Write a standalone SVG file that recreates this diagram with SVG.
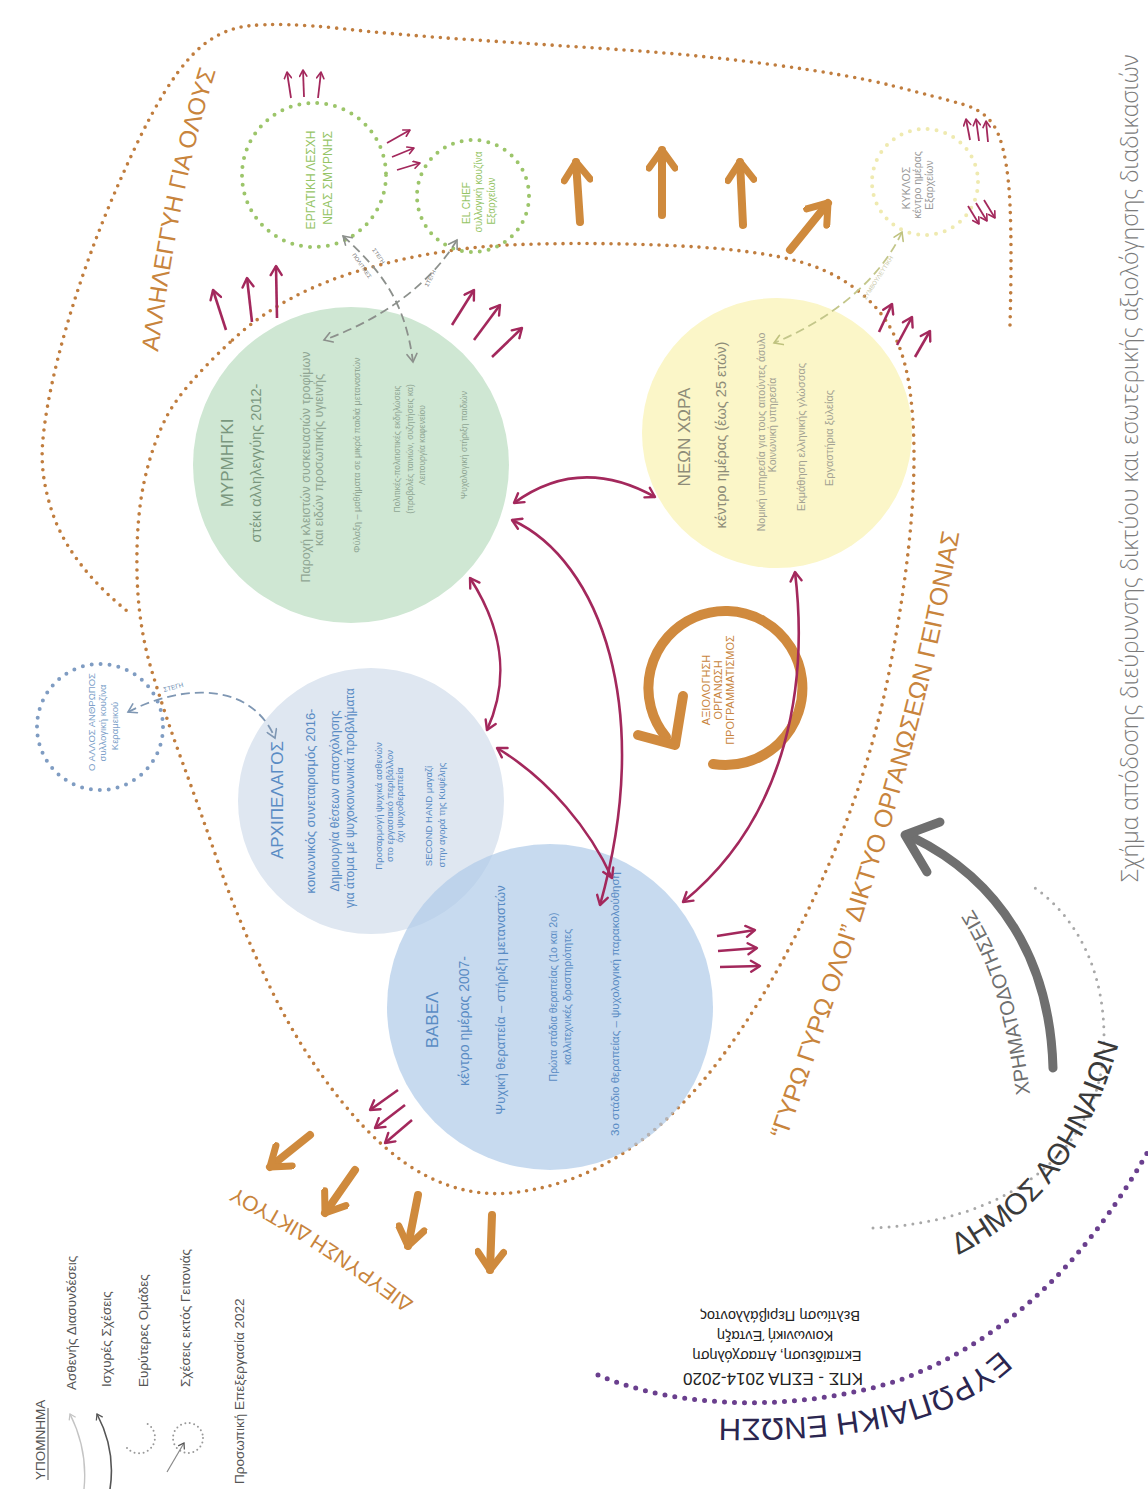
<svg xmlns="http://www.w3.org/2000/svg" width="1148" height="1489" viewBox="0 0 1148 1489">
<defs>
<style>
text{font-family:"Liberation Sans","Noto Sans",sans-serif}
.cap{font-family:"Open Sans","Liberation Sans",sans-serif;font-weight:300;fill:#7b7b7b;font-size:23px}
.brdot{fill:none;stroke:#c07d3e;stroke-width:3.6;stroke-linecap:round;stroke-dasharray:0 8}
.gdot{fill:none;stroke:#9cc56a;stroke-width:4;stroke-linecap:round;stroke-dasharray:0 9}
.ydot{fill:none;stroke:#efeab0;stroke-width:4;stroke-linecap:round;stroke-dasharray:0 9}
.bdot{fill:none;stroke:#7f9cc2;stroke-width:4;stroke-linecap:round;stroke-dasharray:0 9}
.pdot{fill:none;stroke:#6a3f8e;stroke-width:5;stroke-linecap:round;stroke-dasharray:0 10}
.greydot{fill:none;stroke:#a8a8a8;stroke-width:3;stroke-linecap:round;stroke-dasharray:0 8}
.cr{fill:none;stroke:#a3285c;stroke-width:2.6}
.crs{fill:none;stroke:#a3285c;stroke-width:1.8}
.or{fill:none;stroke:#cf8a3d;stroke-width:8;stroke-linecap:round}
.dash{fill:none;stroke:#8c908c;stroke-width:1.8;stroke-dasharray:9 5}
.tg{fill:#7a977e}.tgs{fill:#90a693}
.ty{fill:#8e8c78}.tys{fill:#a3a293}
.tb{fill:#5a8cc4}
.to{fill:#c8843c}
.leg{fill:#555;font-size:13.5px}
</style>
<marker id="mc" viewBox="0 0 14 14" refX="12" refY="7" markerWidth="14" markerHeight="14" markerUnits="userSpaceOnUse" orient="auto-start-reverse"><path d="M3,1.5 L12,7 L3,12.5" fill="none" stroke="#a3285c" stroke-width="2.4" stroke-linecap="round" stroke-linejoin="round"/></marker>
<marker id="mcs" viewBox="0 0 10 10" refX="9" refY="5" markerWidth="9" markerHeight="9" markerUnits="userSpaceOnUse" orient="auto"><path d="M2,1 L9,5 L2,9" fill="none" stroke="#a3285c" stroke-width="1.8" stroke-linecap="round" stroke-linejoin="round"/></marker>
<marker id="mo" viewBox="0 0 32 32" refX="26" refY="16" markerWidth="32" markerHeight="32" markerUnits="userSpaceOnUse" orient="auto"><path d="M8,3 L26,16 L8,29" fill="none" stroke="#cf8a3d" stroke-width="7" stroke-linecap="round" stroke-linejoin="round"/></marker>
<marker id="md" viewBox="0 0 12 12" refX="10" refY="6" markerWidth="12" markerHeight="12" markerUnits="userSpaceOnUse" orient="auto-start-reverse"><path d="M2,1 L10,6 L2,11" fill="none" stroke="#8c908c" stroke-width="1.6" stroke-linecap="round"/></marker>
<marker id="mdy" viewBox="0 0 12 12" refX="10" refY="6" markerWidth="12" markerHeight="12" markerUnits="userSpaceOnUse" orient="auto-start-reverse"><path d="M2,1 L10,6 L2,11" fill="none" stroke="#bfc27e" stroke-width="1.6" stroke-linecap="round"/></marker>
<marker id="mdb" viewBox="0 0 12 12" refX="10" refY="6" markerWidth="12" markerHeight="12" markerUnits="userSpaceOnUse" orient="auto-start-reverse"><path d="M2,1 L10,6 L2,11" fill="none" stroke="#7f97b3" stroke-width="1.6" stroke-linecap="round"/></marker>
<marker id="ml1" viewBox="0 0 10 10" refX="8" refY="5" markerWidth="9" markerHeight="9" markerUnits="userSpaceOnUse" orient="auto-start-reverse"><path d="M2,1 L8,5 L2,9" fill="none" stroke="#c4c4c4" stroke-width="1.4"/></marker>
<marker id="ml2" viewBox="0 0 10 10" refX="8" refY="5" markerWidth="9" markerHeight="9" markerUnits="userSpaceOnUse" orient="auto-start-reverse"><path d="M2,1 L8,5 L2,9" fill="none" stroke="#555" stroke-width="1.4"/></marker>
<path id="pAll" d="M 158 352 C 172 250, 188 150, 226 40"/>
<path id="pGyro" d="M 786 1140 C 852 950, 925 750, 965 500"/>
<path id="pDiev" d="M 414 1302 C 350 1252, 288 1214, 222 1180"/>
<path id="pChrim" d="M 1030 1094 C 1018 1000, 998 940, 955 884"/>
<path id="pDimos" d="M 958 1255 C 1040 1215, 1100 1140, 1128 1005"/>
<path id="pEE" d="M 1000 1350 C 950 1398, 860 1424, 700 1418"/>
</defs>

<rect width="1148" height="1489" fill="#ffffff"/>

<!-- caption -->
<text class="cap" transform="translate(1138,882) rotate(-90)">Σχήμα απόδοσης διεύρυνσης δικτύου και εσωτερικής αξιολόγησης διαδικασιών</text>

<!-- big dotted outlines -->
<g id="outlines">
<path class="brdot" d="M 1010 325 Q 1012 250 1010 205 Q 1008 160 999 136 Q 990 112 963.5 104.5 Q 937 97 893.5 86 Q 850 75 775 65 Q 700 55 625 50 Q 550 45 475 40 Q 400 35 340 28.5 Q 280 22 247.5 26 Q 215 30 190 57.5 Q 165 85 137.5 142.5 Q 110 200 90 255 Q 70 310 57.5 360 Q 45 410 42.5 445 Q 40 480 55 520 Q 75 570 132 615"/>
<path class="brdot" d="M 232.5 340 Q 283 293 361.5 270 Q 440 247 520 244.5 Q 600 242 680 246 Q 760 250 802.5 262.5 Q 845 275 873.5 305 Q 902 335 909.5 387.5 Q 917 440 912 510 Q 907 580 889.5 670 Q 872 760 837 845 Q 802 930 762 996.5 Q 722 1063 682 1104 Q 642 1145 601 1166 Q 560 1187 515 1192.5 Q 470 1198 427.5 1176.5 Q 385 1155 342.5 1102.5 Q 300 1050 269 985 Q 238 920 219 865 Q 200 810 182.5 762.5 Q 165 715 151.5 670 Q 138 625 137 572.5 Q 136 520 144 482.5 Q 152 445 167 416 Q 182 387 232.5 340 Z"/>
<text class="to" font-size="24"><textPath href="#pAll">ΑΛΛΗΛΕΓΓΥΗ ΓΙΑ ΟΛΟΥΣ</textPath></text>
<text class="to" font-size="25"><textPath href="#pGyro">“ΓΥΡΩ ΓΥΡΩ ΟΛΟΙ” ΔΙΚΤΥΟ ΟΡΓΑΝΩΣΕΩΝ ΓΕΙΤΟΝΙΑΣ</textPath></text>
<text class="to" font-size="21"><textPath href="#pDiev">ΔΙΕΥΡΥΝΣΗ ΔΙΚΤΥΟΥ</textPath></text>
</g>

<!-- EU / Dimos -->
<g id="eu">
<path class="pdot" d="M 598 1375 C 680 1410, 800 1412, 900 1380 C 1000 1342, 1080 1272, 1150 1148"/>
<text fill="#2b2650" font-size="31"><textPath href="#pEE">ΕΥΡΩΠΑΙΚΗ ΕΝΩΣΗ</textPath></text>
<g fill="#222" text-anchor="middle">
<text font-size="17" transform="translate(773,1373) rotate(180)">ΚΠΣ - ΕΣΠΑ 2014-2020</text>
<text font-size="14.5" transform="translate(777,1351) rotate(180)">Εκπαίδευση, Απασχόληση</text>
<text font-size="14.5" transform="translate(775,1331) rotate(180)">Κοινωνική Ένταξη</text>
<text font-size="14.5" transform="translate(780,1311) rotate(180)">Βελτίωση Περιβάλλοντος</text>
</g>
</g>
<g id="dimos">
<path class="greydot" d="M 873 1228 C 1000 1222, 1090 1160, 1103 1060 C 1110 980, 1080 920, 1035 888"/>
<text fill="#3a3a3a" font-size="30"><textPath href="#pDimos">ΔΗΜΟΣ ΑΘΗΝΑΙΩΝ</textPath></text>
<path d="M 1053 1068 C 1050 960, 1000 880, 912 837" fill="none" stroke="#6f6f6f" stroke-width="9" stroke-linecap="round"/>
<path d="M 940 822 L 905 835 L 927 872" fill="none" stroke="#6f6f6f" stroke-width="9" stroke-linecap="round" stroke-linejoin="round"/>
<text fill="#6f6f6f" font-size="20"><textPath href="#pChrim">ΧΡΗΜΑΤΟΔΟΤΗΣΕΙΣ</textPath></text>
</g>

<!-- main circles -->
<g id="myrmigki">
<circle cx="351" cy="465" r="158" fill="#cfe7d3"/>
<g transform="translate(351,465) rotate(-90)" text-anchor="middle">
<text class="tg" x="2" y="-118" font-size="17">ΜΥΡΜΗΓΚΙ</text>
<text class="tg" x="2" y="-90" font-size="14.5">στέκι αλληλεγγύης 2012-</text>
<text class="tgs" x="-2" y="-41" font-size="12.5">Παροχή κλειστών συσκευασιών τροφίμων</text>
<text class="tgs" x="5" y="-28" font-size="12.5">και ειδών προσωπικής υγιεινής</text>
<text class="tgs" x="10" y="9" font-size="9">Φύλαξη – μαθήματα σε μικρά παιδιά μεταναστών</text>
<text class="tgs" x="16" y="49" font-size="8.5">Πολιτικές-πολιτιστικές εκδηλώσεις</text>
<text class="tgs" x="16" y="62" font-size="8.5">(προβολές ταινιών, συζητήσεις κα)</text>
<text class="tgs" x="20" y="74" font-size="8.5">Λειτουργία καφενείου</text>
<text class="tgs" x="20" y="116" font-size="8.5">Ψυχολογική στήριξη παιδιών</text>
</g>
</g>

<g id="neon-xora">
<circle cx="777" cy="433" r="135" fill="#fbf6c8"/>
<g transform="translate(777,433) rotate(-90)" text-anchor="middle">
<text class="ty" x="-4" y="-87" font-size="17">ΝΕΩΝ ΧΩΡΑ</text>
<text class="ty" x="-2" y="-51" font-size="14.5">κέντρο ημέρας (έως 25 ετών)</text>
<text class="tys" x="1" y="-12" font-size="10.5">Νομική υπηρεσία για τους αιτούντες άσυλο</text>
<text class="tys" x="8" y="-1" font-size="10.5">Κοινωνική υπηρεσία</text>
<text class="tys" x="-4" y="28" font-size="11">Εκμάθηση ελληνικής γλώσσας</text>
<text class="tys" x="-5" y="56" font-size="11">Εργαστήρια ξυλείας</text>
</g>
</g>

<g id="archipelagos">
<circle cx="371" cy="801" r="133" fill="#dfe7f1"/>
</g>
<g id="babel">
<circle cx="550" cy="1007" r="163" fill="#afcae8" fill-opacity="0.7"/>
</g>
<g transform="translate(371,801) rotate(-90)" text-anchor="middle" class="tb">
<text x="1" y="-88" font-size="17">ΑΡΧΙΠΕΛΑΓΟΣ</text>
<text x="0" y="-56" font-size="13">κοινωνικός συνεταιρισμός 2016-</text>
<text x="0" y="-32" font-size="12">Δημιουργία θέσεων απασχόλησης</text>
<text x="3" y="-17" font-size="12">για άτομα με ψυχοκοινωνικά προβλήματα</text>
<text x="-5" y="11" font-size="9.5">Προσαρμογή ψυχικά ασθενών</text>
<text x="-5" y="22" font-size="9.5">στο εργασιακό περιβάλλον</text>
<text x="-4" y="32" font-size="9.5">όχι ψυχοθεραπεία</text>
<text x="-15" y="61" font-size="9.5">SECOND HAND μαγαζί</text>
<text x="-14" y="74" font-size="9.5">στην αγορά της Κυψέλης</text>
</g>
<g transform="translate(550,1007) rotate(-90)" text-anchor="middle" class="tb">
<text x="-13" y="-112" font-size="17">ΒΑΒΕΛ</text>
<text x="-14" y="-81" font-size="14">κέντρο ημέρας 2007-</text>
<text x="7" y="-45" font-size="13">Ψυχική θεραπεία – στήριξη μεταναστών</text>
<text x="10" y="7" font-size="10.5">Πρώτα στάδια θεραπείας (1ο και 2ο)</text>
<text x="10" y="21" font-size="10.5">καλλιτεχνικές δραστηριότητες</text>
<text x="3" y="69" font-size="11.5">3ο στάδιο θεραπείας – ψυχολογική παρακολούθηση</text>
</g>

<!-- outer groups -->
<g id="ergatiki">
<circle class="gdot" cx="314" cy="175" r="72"/>
<g transform="translate(314,175) rotate(-90)" text-anchor="middle" fill="#95c465" font-size="12">
<text x="-5" y="1">ΕΡΓΑΤΙΚΗ ΛΕΣΧΗ</text>
<text x="-3" y="18">ΝΕΑΣ ΣΜΥΡΝΗΣ</text>
</g>
</g>
<g id="el-chef">
<circle class="gdot" cx="473" cy="196" r="56"/>
<g transform="translate(473,196) rotate(-90)" text-anchor="middle" fill="#95c465" font-size="10">
<text x="-7" y="-3">EL CHEF</text>
<text x="4" y="9">συλλογική κουζίνα</text>
<text x="-5" y="22">Εξαρχείων</text>
</g>
</g>
<g id="kyklos">
<circle class="ydot" cx="925" cy="182" r="53"/>
<g transform="translate(925,182) rotate(-90)" text-anchor="middle" fill="#9a9a9a" font-size="10.5">
<text x="-6" y="-15">ΚΥΚΛΟΣ</text>
<text x="-3" y="-4">κέντρο ημέρας</text>
<text x="-3" y="8">Εξαρχείων</text>
</g>
</g>
<g id="allos-anthropos">
<circle class="bdot" cx="100" cy="727" r="63"/>
<g transform="translate(100,727) rotate(-90)" text-anchor="middle" fill="#7d9fc9" font-size="9.5">
<text x="5" y="-5">Ο ΑΛΛΟΣ ΑΝΘΡΩΠΟΣ</text>
<text x="4" y="6">συλλογική κουζίνα</text>
<text x="1" y="18">Κεραμεικού</text>
</g>
</g>

<g id="axiologisi">
<path d="M 713 764 A 77 77 0 1 0 666 737" fill="none" stroke="#d08a3e" stroke-width="10" stroke-linecap="round"/>
<path d="M 638 735 L 675 745 L 683 696" fill="none" stroke="#d08a3e" stroke-width="10" stroke-linecap="round" stroke-linejoin="round"/>
<g transform="translate(725,690) rotate(-90)" text-anchor="middle" class="to" font-size="11">
<text x="0" y="-15">ΑΞΙΟΛΟΓΗΣΗ</text>
<text x="0" y="-3">ΟΡΓΑΝΩΣΗ</text>
<text x="0" y="9">ΠΡΟΓΡΑΜΜΑΤΙΣΜΟΣ</text>
</g>
</g>

<!-- connectors -->
<g id="connectors">
<g class="cr">
<path d="M 514 503 Q 580 455 655 497" marker-start="url(#mc)" marker-end="url(#mc)"/>
<path d="M 512 520 C 600 560, 655 710, 600 905" marker-start="url(#mc)" marker-end="url(#mc)"/>
<path d="M 470 578 C 510 640, 505 690, 487 730" marker-start="url(#mc)" marker-end="url(#mc)"/>
<path d="M 497 748 C 550 780, 590 830, 612 878" marker-start="url(#mc)" marker-end="url(#mc)"/>
<path d="M 795 572 C 808 680, 790 815, 683 902" marker-start="url(#mc)" marker-end="url(#mc)"/>
</g>
<g class="cr">
<path d="M 226 330 L 213 290" marker-end="url(#mc)"/>
<path d="M 252 322 L 247 278" marker-end="url(#mc)"/>
<path d="M 277 318 L 276 266" marker-end="url(#mc)"/>
<path d="M 452 325 L 474 290" marker-end="url(#mc)"/>
<path d="M 474 340 L 500 305" marker-end="url(#mc)"/>
<path d="M 492 357 L 522 328" marker-end="url(#mc)"/>
<path d="M 879 332 L 892 304" marker-end="url(#mc)"/>
<path d="M 897 345 L 912 317" marker-end="url(#mc)"/>
<path d="M 915 357 L 930 331" marker-end="url(#mc)"/>
<path d="M 717 936 L 755 930" marker-end="url(#mc)"/>
<path d="M 718 951 L 757 948" marker-end="url(#mc)"/>
<path d="M 720 967 L 760 966" marker-end="url(#mc)"/>
<path d="M 398 1090 L 370 1110" marker-end="url(#mc)"/>
<path d="M 405 1105 L 375 1128" marker-end="url(#mc)"/>
<path d="M 412 1120 L 385 1143" marker-end="url(#mc)"/>
</g>
<g class="crs">
<path d="M 291 98 L 287 72" marker-end="url(#mcs)"/>
<path d="M 304 97 L 303 70" marker-end="url(#mcs)"/>
<path d="M 318 98 L 321 72" marker-end="url(#mcs)"/>
<path d="M 387 143 L 410 130" marker-end="url(#mcs)"/>
<path d="M 392 157 L 414 148" marker-end="url(#mcs)"/>
<path d="M 397 170 L 420 163" marker-end="url(#mcs)"/>
<path d="M 970 140 L 966 119" marker-end="url(#mcs)"/>
<path d="M 979 141 L 976 119" marker-end="url(#mcs)"/>
<path d="M 988 142 L 986 121" marker-end="url(#mcs)"/>
<path d="M 968 206 L 979 224" marker-end="url(#mcs)"/>
<path d="M 976 203 L 987 221" marker-end="url(#mcs)"/>
<path d="M 984 200 L 995 218" marker-end="url(#mcs)"/>
</g>
<g class="or">
<path d="M 580 222 L 576 162" marker-end="url(#mo)"/>
<path d="M 662 215 L 662 150" marker-end="url(#mo)"/>
<path d="M 743 225 L 740 162" marker-end="url(#mo)"/>
<path d="M 790 250 L 828 203" marker-end="url(#mo)"/>
<path d="M 310 1135 L 270 1167" marker-end="url(#mo)"/>
<path d="M 355 1170 L 325 1213" marker-end="url(#mo)"/>
<path d="M 418 1195 L 408 1246" marker-end="url(#mo)"/>
<path d="M 492 1215 L 490 1270" marker-end="url(#mo)"/>
</g>
<path class="dash" d="M 343 236 C 380 270, 405 300, 413 362" marker-start="url(#md)" marker-end="url(#md)"/>
<path class="dash" d="M 457 240 C 430 285, 380 320, 324 340" marker-start="url(#md)" marker-end="url(#md)"/>
<path class="dash" style="stroke:#c3c68a" d="M 902 232 C 880 280, 830 320, 774 343" marker-start="url(#mdy)" marker-end="url(#mdy)"/>
<path class="dash" style="stroke:#7f97b3" d="M 128 712 C 180 685, 250 680, 275 738" marker-start="url(#mdb)" marker-end="url(#mdb)"/>
<g font-size="5.5" fill="#777">
<text transform="translate(428,287) rotate(-62)">ΣΤΕΓΗ</text>
<text transform="translate(352,255) rotate(55)">ΠΟΛΙΤΙΚΕΣ</text>
<text transform="translate(372,250) rotate(55)">ΣΤΕΓΗ</text>
</g>
<text transform="translate(866,300) rotate(-57)" font-size="6" fill="#c8c8a8">ΣΥΜΒΟΥΛΕΥΤΙΚΗ</text>
<text transform="translate(164,692) rotate(-15)" font-size="6.5" fill="#6a8bb0">ΣΤΕΓΗ</text>
</g>

<!-- legend -->
<g id="legend">
<text class="leg" transform="translate(45,1480) rotate(-90)" font-size="13">ΥΠΟΜΝΗΜΑ</text>
<line x1="48" y1="1480" x2="48" y2="1408" stroke="#555" stroke-width="1"/>
<text class="leg" transform="translate(76,1390) rotate(-90)">Ασθενής Διασυνδέσεις</text>
<text class="leg" transform="translate(111,1387) rotate(-90)">Ισχυρές Σχέσεις</text>
<text class="leg" transform="translate(148,1387) rotate(-90)">Ευρύτερες Ομάδες</text>
<text class="leg" transform="translate(190,1387) rotate(-90)">Σχέσεις εκτός Γειτονιάς</text>
<text class="leg" transform="translate(244,1484) rotate(-90)" font-size="14.5">Προσωπική Επεξεργασία 2022</text>
<path d="M 70 1414 Q 88 1450 84 1489" fill="none" stroke="#c4c4c4" stroke-width="1.4" marker-start="url(#ml1)"/>
<path d="M 97 1414 Q 116 1450 110 1489" fill="none" stroke="#555" stroke-width="1.6" marker-start="url(#ml2)"/>
<path d="M 127 1448 A 16 16 0 1 0 146 1423" fill="none" stroke="#999" stroke-width="2" stroke-linecap="round" stroke-dasharray="0 4.5"/>
<circle cx="188" cy="1438" r="15" fill="none" stroke="#999" stroke-width="2" stroke-linecap="round" stroke-dasharray="0 4.5"/>
<path d="M 167 1472 L 184 1443" fill="none" stroke="#888" stroke-width="1.2" marker-end="url(#ml2)"/>
</g>
</svg>
